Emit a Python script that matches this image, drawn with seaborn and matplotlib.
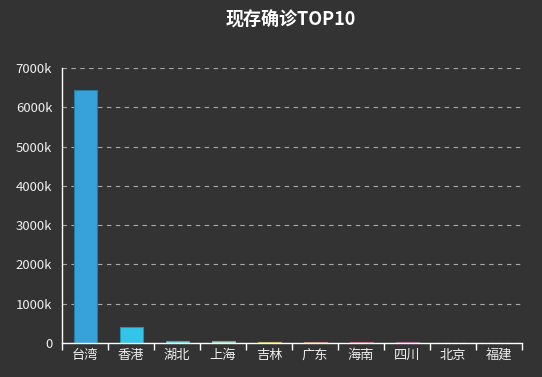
import pandas as pd
import seaborn as sns
import matplotlib.pyplot as plt
from matplotlib.ticker import FuncFormatter, FixedLocator

# 现存确诊 TOP10
provinces = ['台湾', '香港', '湖北', '上海', '吉林', '广东', '海南', '四川', '北京', '福建']
confirmed = [6450000, 395000, 60000, 55000, 35000, 25000, 20000, 15000, 10000, 8000]
colors = ['#37A2DA', '#32C5E9', '#67E0E3', '#9FE6B8', '#FFDB5C',
          '#ff9f7f', '#fb7293', '#E062AE', '#E690D1', '#e7bcf3']

df = pd.DataFrame({'province': provinces, 'confirmed': confirmed})

sns.set_style('dark')
plt.rcParams['font.family'] = ['Noto Sans CJK SC', 'DejaVu Sans']
bg = '#333333'

fig = plt.figure(figsize=(5.42, 3.77), dpi=100, facecolor=bg)
ax = fig.add_axes([62 / 542, 1 - 343 / 377, 460 / 542, 275 / 377])
ax.set_facecolor(bg)

sns.barplot(data=df, x='province', y='confirmed', hue='province',
            palette=colors, width=0.5, saturation=1, legend=False, ax=ax,
            linewidth=0)
# thin darker outline like the original
for bar in ax.patches:
    r, g, b, _ = bar.get_facecolor()
    bar.set_edgecolor((r * 0.75, g * 0.75, b * 0.75))
    bar.set_linewidth(0.8)

ax.set_xlim(-0.5, 9.5)
ax.set_ylim(0, 7000000)
ax.yaxis.set_major_locator(FixedLocator(range(0, 7000001, 1000000)))
ax.yaxis.set_major_formatter(FuncFormatter(lambda v, p: f'{int(v / 1000)}k' if v else '0'))
ax.grid(axis='y', color='#aaaaaa', linestyle=(0, (4, 4)), linewidth=0.8)
ax.grid(axis='x', visible=False)
ax.set_axisbelow(True)

ax.set_xticks(range(10))
ax.set_xticklabels(provinces)
ax.set_xticks([i - 0.5 for i in range(11)], minor=True)
ax.tick_params(axis='x', which='major', length=0, colors='#eeeeee', labelsize=9.5, pad=4)
ax.tick_params(axis='x', which='minor', length=5, color='white', width=1, direction='out')
ax.tick_params(axis='y', length=5, color='white', width=1, direction='out',
               labelcolor='#eeeeee', labelsize=9.5, pad=2)
ax.xaxis.set_tick_params(which='minor', bottom=True)

for side in ['top', 'right']:
    ax.spines[side].set_visible(False)
for side in ['left', 'bottom']:
    ax.spines[side].set_visible(True)
    ax.spines[side].set_color('white')
    ax.spines[side].set_linewidth(1)
ax.set_xlabel('')
ax.set_ylabel('')

fig.text(291 / 542, 1 - 20 / 377, '现存确诊TOP10', color='white', fontsize=13,
         fontweight='bold', ha='center', va='center')

fig.savefig('out.png', dpi=100, facecolor=bg)
